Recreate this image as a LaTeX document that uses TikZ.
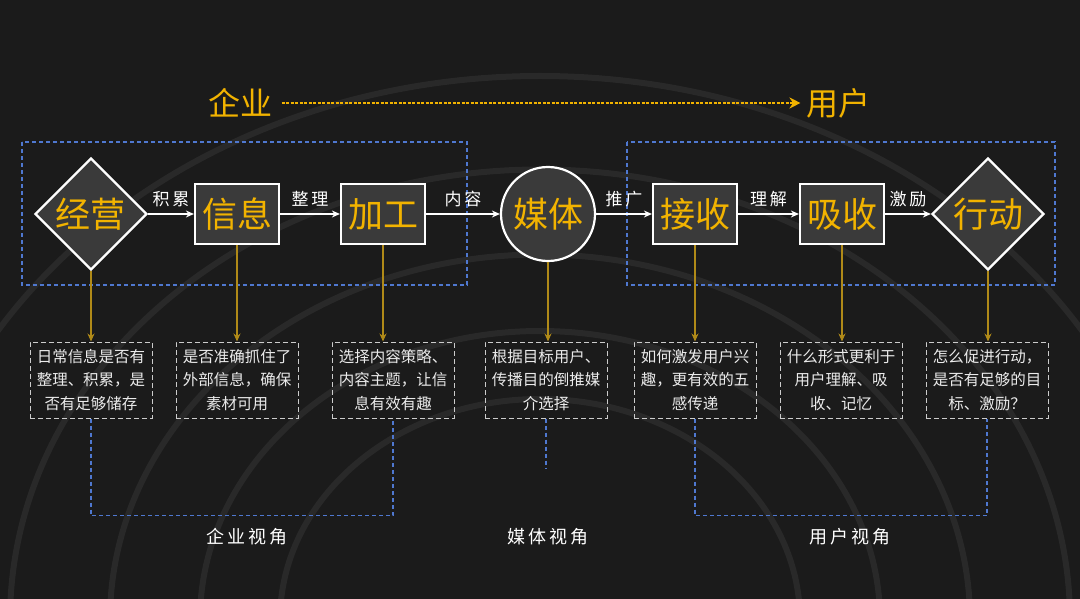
\documentclass[tikz,border=0pt]{standalone}
\usepackage{fontspec}
\setmainfont{Noto Sans CJK SC}
\usetikzlibrary{shapes.geometric,arrows.meta}
\definecolor{bg}{HTML}{1B1B1B}
\definecolor{gold}{HTML}{F2B300}
\definecolor{dgold}{HTML}{B08A18}
\definecolor{fillg}{HTML}{3A3A3A}
\definecolor{dblue}{HTML}{4F78D0}
\begin{document}
\begin{tikzpicture}[x=1pt,y=-1pt,
  main/.style={draw=white,line width=2.2pt,fill=fillg,text=gold,font=\fontsize{35}{35}\selectfont,inner sep=0pt},
  box/.style={main,rectangle,minimum width=84pt,minimum height=60pt},
  dia/.style={main,diamond,minimum width=112pt,minimum height=112pt},
  circ/.style={main,circle,minimum size=94pt},
  flow/.style={white,line width=1.6pt,-{Stealth[length=8pt,width=7pt]}},
  flab/.style={text=white,font=\fontsize{17}{17}\selectfont},
  down/.style={dgold,line width=1.6pt,-{Stealth[length=8pt,width=7pt]}},
  desc/.style={draw=white!80!black,line width=1pt,dash pattern=on 5pt off 3pt,text=white!92!black,
     minimum width=122pt,minimum height=76pt,align=center,inner sep=2pt,
     font=\fontsize{15.5}{23.5}\selectfont},
  blue/.style={dblue,line width=1.8pt,dash pattern=on 4pt off 3pt},
  persp/.style={text=white,font=\fontsize{18}{18}\selectfont}]
\fill[bg] (0,0) rectangle (1080,599);
\useasboundingbox (0,0) rectangle (1080,599);
\foreach \r in {260,340,430,530,640}
  \draw[white!6!bg,line width=6pt] (540-\r,620) arc[start angle=180,end angle=0,x radius=\r,y radius=-\r*0.85];
% title
\node[text=gold,font=\fontsize{32}{32}\selectfont] (t1) at (240,103) {企业};
\node[text=gold,font=\fontsize{32}{32}\selectfont] (t2) at (838,103) {用户};
\draw[gold,line width=2.2pt,dash pattern=on 3pt off 1.5pt,-{Stealth[length=11pt,width=11pt]}] ([xshift=6pt]t1.east) -- ([xshift=-2pt]t2.west);
% perspective boxes
\draw[blue] (22,142) rectangle (467,285);
\draw[blue] (627,142) rectangle (1055,285);
% nodes
\node[dia] (n1) at (91,214) {经营};
\node[box] (n2) at (237,214) {信息};
\node[box] (n3) at (383,214) {加工};
\node[circ] (n4) at (548,214) {媒体};
\node[box] (n5) at (695,214) {接收};
\node[box] (n6) at (842,214) {吸收};
\node[dia] (n7) at (988,214) {行动};
\draw[flow] (n1) -- node[flab,above=3pt]{积\,累} (n2);
\draw[flow] (n2) -- node[flab,above=3pt]{整\,理} (n3);
\draw[flow] (n3) -- node[flab,above=3pt]{内\,容} (n4);
\draw[flow] (n4) -- node[flab,above=3pt]{推\,广} (n5);
\draw[flow] (n5) -- node[flab,above=3pt]{理\,解} (n6);
\draw[flow] (n6) -- node[flab,above=3pt]{激\,励} (n7);
% descriptions
\node[desc] (d1) at (91,380) {日常信息是否有\\整理、积累，是\\否有足够储存};
\node[desc] (d2) at (237,380) {是否准确抓住了\\外部信息，确保\\素材可用};
\node[desc] (d3) at (393,380) {选择内容策略、\\内容主题，让信\\息有效有趣};
\node[desc] (d4) at (546,380) {根据目标用户、\\传播目的倒推媒\\介选择};
\node[desc] (d5) at (695,380) {如何激发用户兴\\趣，更有效的五\\感传递};
\node[desc] (d6) at (841,380) {什么形式更利于\\用户理解、吸\\收、记忆};
\node[desc] (d7) at (987,380) {怎么促进行动，\\是否有足够的目\\标、激励？};
\foreach \i in {1,2,3,4,5,6,7} \draw[down] (n\i.south) -- (n\i.south |- d\i.north);
% bottom brackets
\draw[blue] (d1.south) -- ++(0,97) -| (d3.south);
\draw[blue] (d4.south) -- ++(0,50);
\draw[blue] (d5.south) -- ++(0,97) -| (d7.south);
\node[persp] (p1) at (247,537) {企\,业\,视\,角};
\node[persp] (p2) at (548,537) {媒\,体\,视\,角};
\node[persp] (p3) at (850,537) {用\,户\,视\,角};
\end{tikzpicture}
\end{document}
